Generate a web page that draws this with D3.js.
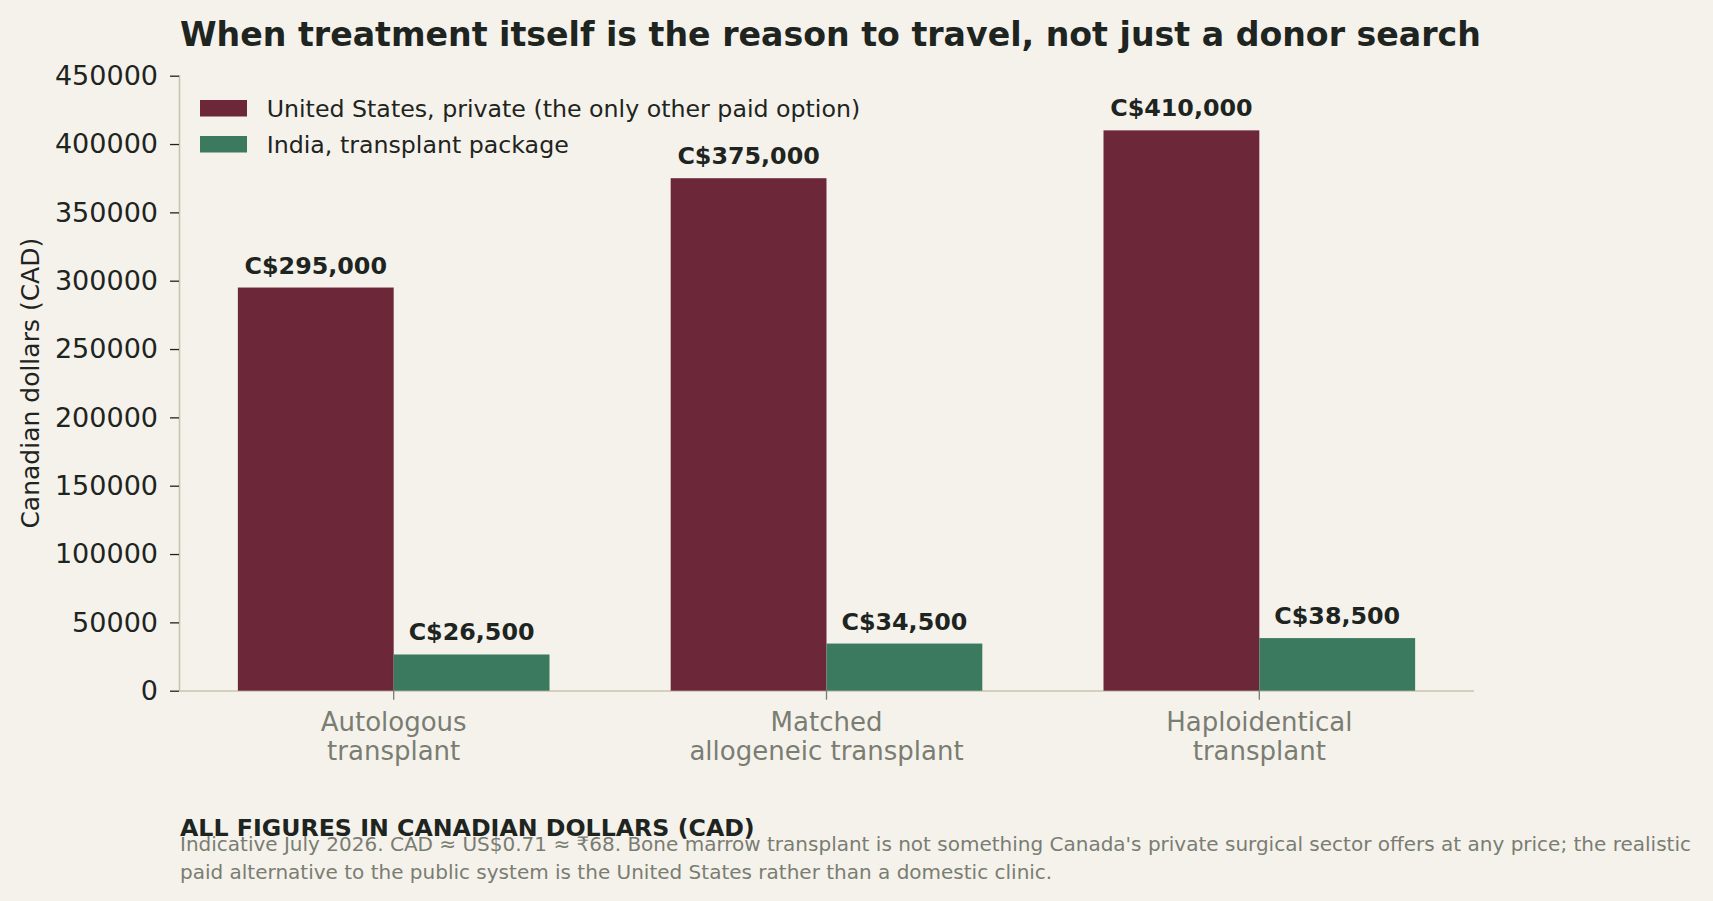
<!DOCTYPE html>
<html>
<head>
<meta charset="utf-8">
<script src="https://cdn.jsdelivr.net/npm/d3@7"></script>
<style>
body { margin: 0; background: #f5f2ec; }
svg { display: block; font-family: "DejaVu Sans", sans-serif; }
.tick_y text { font-size: 27px; fill: #1e2420; font-family: "DejaVu Sans", sans-serif; }
.tick_y line { stroke: #1e2420; stroke-width: 1.3; }
.tick_x text { font-size: 26px; fill: #7a7d72; font-family: "DejaVu Sans", sans-serif; }
.tick_x line { stroke: #7a7d72; stroke-width: 1.3; }
.domain { stroke: #c8c4ac; stroke-width: 1.6; }
</style>
</head>
<body>
<div id="content"></div>
<script>
// chart data
var categories = ['Autologous transplant', 'Matched allogeneic transplant', 'Haploidentical transplant'];
var tick_labels = [['Autologous', 'transplant'], ['Matched', 'allogeneic transplant'], ['Haploidentical', 'transplant']];
var series_keys = ['us', 'india'];
var series_names = ['United States, private (the only other paid option)', 'India, transplant package'];
var us_values = [295000, 375000, 410000];
var india_values = [26500, 34500, 38500];
var value_labels_us = ['C$295,000', 'C$375,000', 'C$410,000'];
var value_labels_india = ['C$26,500', 'C$34,500', 'C$38,500'];
var y_ticks = [0, 50000, 100000, 150000, 200000, 250000, 300000, 350000, 400000, 450000];

var title = 'When treatment itself is the reason to travel, not just a donor search';
var y_axis_label = 'Canadian dollars (CAD)';
var footer_head = 'ALL FIGURES IN CANADIAN DOLLARS (CAD)';
var footer_lines = ["Indicative July 2026. CAD \u2248 US$0.71 \u2248 \u20b968. Bone marrow transplant is not something Canada's private surgical sector offers at any price; the realistic",
                    'paid alternative to the public system is the United States rather than a domestic clinic.'];

// layout constants
var svg_width = 1713;
var svg_height = 901;
var margin = {top: 75.7, left: 179, right: 239, bottom: 210.3};
var chart_width = svg_width - margin.left - margin.right;
var chart_height = svg_height - margin.top - margin.bottom;
var burgundy = '#6c2839';
var green = '#3b7a5e';
var dark = '#1e2420';
var grey = '#7a7d72';
var color_map = [burgundy, green];

var svg = d3.select('#content').append('svg')
	.attr('width', svg_width)
	.attr('height', svg_height);

svg.append('rect').attr('width', svg_width).attr('height', svg_height).attr('fill', '#f5f2ec');

var g = svg.append('g').attr('transform', 'translate(' + margin.left + ',' + margin.top + ')');

//scales
var x0 = d3.scaleBand().domain(categories).range([0, chart_width]).paddingInner(0.28).paddingOuter(0.136);
var x1 = d3.scaleBand().domain(series_keys).range([0, x0.bandwidth()]);
var y = d3.scaleLinear().domain([0, 450000]).range([chart_height, 0]);
var color = d3.scaleOrdinal().domain(series_keys).range(color_map);

//rows for the bars
var rows = [];
categories.forEach(function(c, i){
	rows.push({cat: c, key: 'us', value: us_values[i], label: value_labels_us[i]});
	rows.push({cat: c, key: 'india', value: india_values[i], label: value_labels_india[i]});
});

//y axis
var yAxis = g.append('g')
	.attr('class', 'tick_y')
	.call(d3.axisLeft(y).tickValues(y_ticks).tickFormat(d3.format('d')).tickSize(9).tickSizeOuter(0).tickPadding(12));
yAxis.attr('font-family', null).attr('font-size', null);
yAxis.select('.domain').attr('d', 'M0.5,' + (-0.7) + 'V' + chart_height);

//x axis with two line labels
var xAxis = g.append('g')
	.attr('class', 'tick_x')
	.attr('transform', 'translate(0,' + chart_height + ')')
	.call(d3.axisBottom(x0).tickSize(9).tickSizeOuter(0).tickPadding(0));
xAxis.attr('font-family', null).attr('font-size', null);
xAxis.select('.domain').attr('d', 'M0,0.3H' + chart_width);
xAxis.selectAll('.tick text')
	.attr('y', 0).attr('dy', null)
	.text(null)
	.each(function(d, i){
		var t = d3.select(this);
		tick_labels[i].forEach(function(line, j){
			t.append('tspan').attr('x', 0).attr('y', 40 + j * 29.5).text(line);
		});
	});

//bars
g.selectAll('.bar')
	.data(rows)
	.enter()
	.append('rect')
	.attr('class', 'bar')
	.attr('x', function(d){ return x0(d.cat) + x1(d.key); })
	.attr('y', function(d){ return y(d.value); })
	.attr('width', x1.bandwidth())
	.attr('height', function(d){ return chart_height - y(d.value); })
	.attr('fill', function(d){ return color(d.key); });

//value labels on top of bars
g.selectAll('.value_label')
	.data(rows)
	.enter()
	.append('text')
	.attr('class', 'value_label')
	.attr('x', function(d){ return x0(d.cat) + x1(d.key) + x1.bandwidth() / 2; })
	.attr('y', function(d){ return y(d.value) - 14; })
	.attr('text-anchor', 'middle')
	.style('font-size', '23.8px')
	.style('font-weight', 'bold')
	.style('fill', dark)
	.text(function(d){ return d.label; });

//legend
var legend = svg.selectAll('.legend')
	.data(series_keys)
	.enter()
	.append('g')
	.attr('class', 'legend')
	.attr('transform', function(d, i){ return 'translate(200,' + (100 + i * 36) + ')'; });
legend.append('rect')
	.attr('width', 47)
	.attr('height', 16.5)
	.attr('fill', function(d){ return color(d); });
legend.append('text')
	.attr('x', 66.7)
	.attr('y', 16.7)
	.style('font-size', '23.7px')
	.style('fill', dark)
	.text(function(d, i){ return series_names[i]; });

//title
svg.append('text')
	.attr('x', 180)
	.attr('y', 45.7)
	.style('font-size', '33.2px')
	.style('font-weight', 'bold')
	.style('fill', dark)
	.text(title);

//y label
svg.append('text')
	.attr('transform', 'translate(39,' + (margin.top + chart_height / 2) + ') rotate(-90)')
	.attr('text-anchor', 'middle')
	.style('font-size', '25px')
	.style('fill', dark)
	.text(y_axis_label);

//footer
svg.append('text')
	.attr('x', 180)
	.attr('y', 836)
	.style('font-size', '23.7px')
	.style('font-weight', 'bold')
	.style('fill', dark)
	.text(footer_head);

svg.selectAll('.note')
	.data(footer_lines)
	.enter()
	.append('text')
	.attr('class', 'note')
	.attr('x', 180)
	.attr('y', function(d, i){ return 851 + i * 28.3; })
	.style('font-size', '20px')
	.style('fill', grey)
	.text(function(d){ return d; });
</script>
</body>
</html>
